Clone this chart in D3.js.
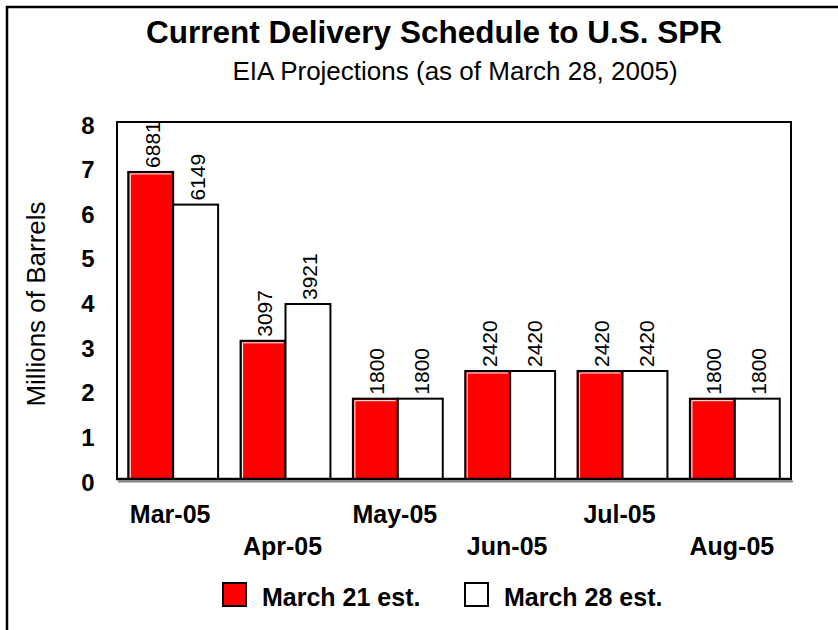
<!DOCTYPE html>
<html>
<head>
<meta charset="utf-8">
<script src="https://cdn.jsdelivr.net/npm/d3@7"></script>
<style>
  body { margin: 0; background: #fff; }
  text { font-family: Arial, "Liberation Sans", sans-serif; fill: #000; }
</style>
</head>
<body>
<div class="chart"></div>
<script>
// values in thousands of barrels
const months = ["Mar-05", "Apr-05", "May-05", "Jun-05", "Jul-05", "Aug-05"];
const march21 = [6881, 3097, 1800, 2420, 2420, 1800];
const march28 = [6149, 3921, 1800, 2420, 2420, 1800];
const seriesNames = ["March 21 est.", "March 28 est."];
const yTicks = [0, 1000, 2000, 3000, 4000, 5000, 6000, 7000, 8000];

const width = 838, height = 630;
const plot = {left: 117, right: 791, top: 122, bottom: 479};

const svg = d3.select('.chart')
    .append('svg')
    .attr('width', width)
    .attr('height', height);

// outer frame (runs off the right and bottom edges)
svg.append('rect')
    .attr('x', 7).attr('y', 7)
    .attr('width', 1000).attr('height', 1000)
    .attr('fill', 'none')
    .attr('stroke', '#000')
    .attr('stroke-width', 2.5);

svg.append('text')
    .attr('x', 434).attr('y', 43)
    .attr('text-anchor', 'middle')
    .style('font-size', '31.5px')
    .style('font-weight', 'bold')
    .text('Current Delivery Schedule to U.S. SPR');

svg.append('text')
    .attr('x', 455).attr('y', 80)
    .attr('text-anchor', 'middle')
    .style('font-size', '26px')
    .text('EIA Projections (as of March 28, 2005)');

const data = months.map((m, i) => ({month: m, values: [march21[i], march28[i]]}));

const xScale = d3.scaleBand()
    .domain(months)
    .range([plot.left, plot.right])
    .paddingInner(0.2)
    .paddingOuter(0.1);

const xSub = d3.scaleBand()
    .domain([0, 1])
    .range([0, xScale.bandwidth()]);

const yScale = d3.scaleLinear()
    .domain([0, 8000])
    .range([plot.bottom, plot.top]);

const colors = ['#ff0000', '#ffffff'];

// plot frame
svg.append('rect')
    .attr('x', plot.left).attr('y', plot.top)
    .attr('width', plot.right - plot.left)
    .attr('height', plot.bottom - plot.top)
    .attr('fill', 'none')
    .attr('stroke', '#000')
    .attr('stroke-width', 2);

// bars
const groups = svg.append('g')
    .selectAll('g')
    .data(data)
    .enter()
    .append('g')
    .attr('transform', d => `translate(${xScale(d.month)},0)`);

groups.selectAll('rect')
    .data(d => d.values)
    .enter()
    .append('rect')
    .attr('x', (d, i) => xSub(i))
    .attr('y', d => yScale(d))
    .attr('width', xSub.bandwidth())
    .attr('height', d => plot.bottom - yScale(d))
    .attr('fill', (d, i) => colors[i])
    .attr('stroke', '#000')
    .attr('stroke-width', 2);

// little white highlight inside the red bars
groups.append('path')
    .attr('d', d => {
        const x0 = xSub(0) + 2, y0 = yScale(d.values[0]) + 2;
        return `M${x0},${plot.bottom - 1}V${y0}H${xSub(0) + xSub.bandwidth() - 2}`;
    })
    .attr('fill', 'none')
    .attr('stroke', '#fff')
    .attr('stroke-width', 1);

// value labels
groups.selectAll('text.val')
    .data(d => d.values)
    .enter()
    .append('text')
    .attr('class', 'val')
    .attr('transform', (d, i) => `translate(${xSub(i) + xSub.bandwidth() / 2 + 9},${yScale(d) - 4}) rotate(-90)`)
    .style('font-size', '21px')
    .text(d => d);

// x axis line with grey shadow
svg.append('line')
    .attr('x1', plot.left + 1).attr('x2', plot.right + 2)
    .attr('y1', plot.bottom + 2.5).attr('y2', plot.bottom + 2.5)
    .attr('stroke', '#808080')
    .attr('stroke-width', 2);
svg.append('line')
    .attr('x1', plot.left - 1).attr('x2', plot.right + 1)
    .attr('y1', plot.bottom).attr('y2', plot.bottom)
    .attr('stroke', '#000')
    .attr('stroke-width', 2.5);

// y axis
const yAxis = d3.axisLeft(yScale)
    .tickValues(yTicks)
    .tickSize(0)
    .tickFormat(d => d / 1000);

const yG = svg.append('g')
    .attr('transform', `translate(${plot.left},0)`)
    .call(yAxis);
yG.select('.domain').remove();
yG.selectAll('text')
    .attr('x', -29)
    .attr('dy', '0.46em')
    .attr('text-anchor', 'middle')
    .style('font-family', 'Arial, "Liberation Sans", sans-serif')
    .style('font-size', '24px')
    .style('font-weight', 'bold')
    .attr('fill', '#000');

// x axis, staggered labels
const xAxis = d3.axisBottom(xScale).tickSize(0);
const xG = svg.append('g')
    .attr('transform', `translate(0,${plot.bottom})`)
    .call(xAxis);
xG.select('.domain').remove();
xG.selectAll('text')
    .attr('x', -3)
    .attr('y', (d, i) => i % 2 === 0 ? 44 : 76)
    .attr('dy', 0)
    .style('font-family', 'Arial, "Liberation Sans", sans-serif')
    .style('font-size', '25px')
    .style('font-weight', 'bold')
    .attr('fill', '#000');

svg.append('text')
    .attr('transform', 'translate(45,304) rotate(-90)')
    .attr('text-anchor', 'middle')
    .style('font-size', '26px')
    .text('Millions of Barrels');

// legend
const legendX = [223, 465];
const legend = svg.append('g')
    .selectAll('g')
    .data(seriesNames)
    .enter()
    .append('g')
    .attr('transform', (d, i) => `translate(${legendX[i]},583)`);
legend.append('rect')
    .attr('width', 23).attr('height', 23)
    .attr('fill', (d, i) => colors[i])
    .attr('stroke', '#000')
    .attr('stroke-width', 2);
legend.append('text')
    .attr('x', 39).attr('y', 23)
    .style('font-size', '25px')
    .style('font-weight', 'bold')
    .text(d => d);
</script>
</body>
</html>
